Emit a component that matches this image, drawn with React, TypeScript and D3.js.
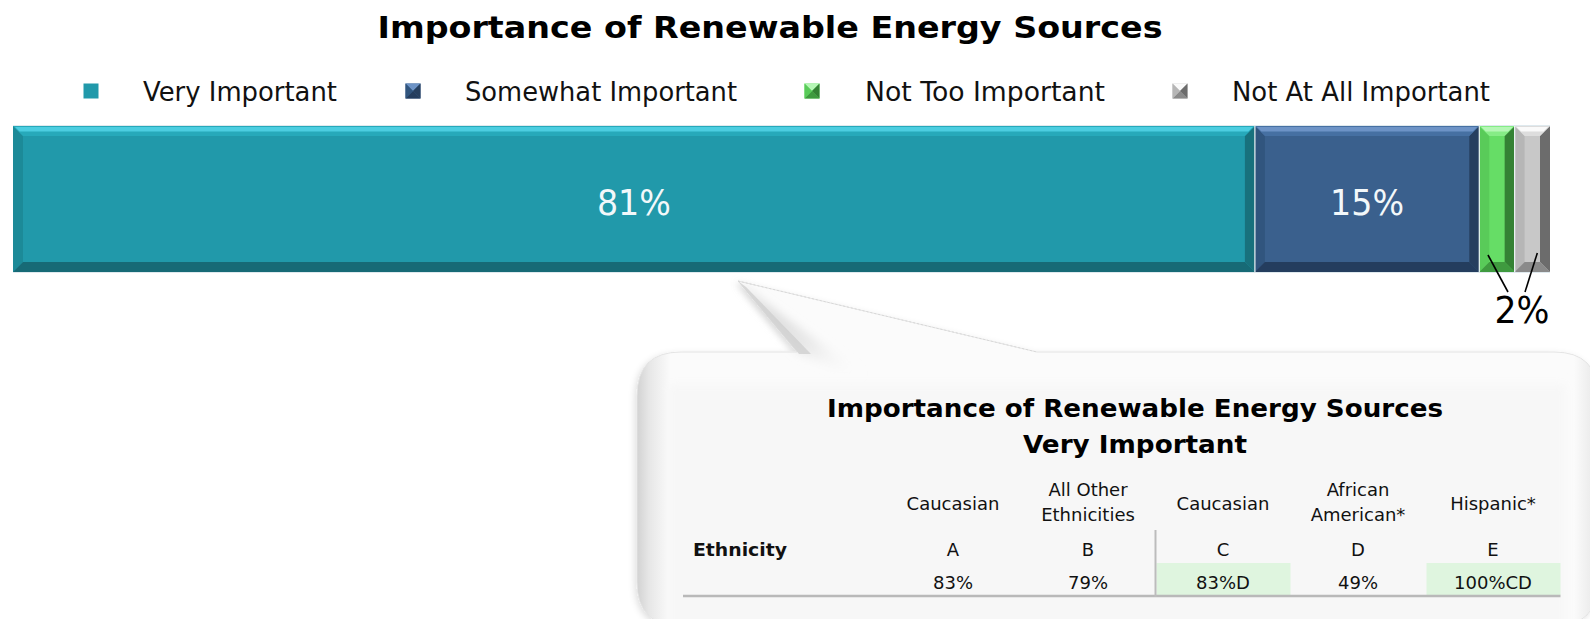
import React from "react";
import * as d3 from "d3";

const chartTitle = "Importance of Renewable Energy Sources";
const categories = ["Very Important", "Somewhat Important", "Not Too Important", "Not At All Important"];
const shares = [80.8, 14.6, 2.3, 2.3];
const barLabels = ["81%", "15%", "2%", ""];

const tableTitle = ["Importance of Renewable Energy Sources", "Very Important"];
const rowLabel = "Ethnicity";
const groupHeaders = [["Caucasian"], ["All Other", "Ethnicities"], ["Caucasian"], ["African", "American*"], ["Hispanic*"]];
const groupLetters = ["A", "B", "C", "D", "E"];
const groupValues = ["83%", "79%", "83%D", "49%", "100%CD"];
const highlighted = [false, false, true, false, true];

type Pal = { base: string; top: string; hi: string; left: string; bottom: string; right: string };
const palettes: Pal[] = [
  { base: "#2199AA", top: "#27a9ba", hi: "#4ccde0", left: "#1c8a98", bottom: "#176a76", right: "#18717d" },
  { base: "#3A608D", top: "#4670a2", hi: "#6d93c6", left: "#31557e", bottom: "#243d5e", right: "#263f5f" },
  { base: "#66DD66", top: "#86ec86", hi: "#b5f7b5", left: "#59cb59", bottom: "#3f9a3f", right: "#348234" },
  { base: "#C8C8C8", top: "#dddddd", hi: "#fafafa", left: "#b6b6b6", bottom: "#8a8a8a", right: "#6c6c6c" },
];

const legendMarkerX = [91, 413, 812, 1180];
const legendTextX = [143, 465, 865, 1232];
const legendTextW = [194, 272, 240, 258];

const FONT = "'DejaVu Sans', Verdana, sans-serif";

function bevel(x0: number, x1: number, y0: number, y1: number, b: number) {
  const p = (pts: number[][]) => pts.map((q) => q.join(",")).join(" ");
  return {
    top: p([[x0, y0], [x1, y0], [x1 - b, y0 + b], [x0 + b, y0 + b]]),
    bottom: p([[x0, y1], [x1, y1], [x1 - b, y1 - b], [x0 + b, y1 - b]]),
    left: p([[x0, y0], [x0 + b, y0 + b], [x0 + b, y1 - b], [x0, y1]]),
    right: p([[x1, y0], [x1 - b, y0 + b], [x1 - b, y1 - b], [x1, y1]]),
    hi: p([[x0 + 2, y0 + 1], [x1 - 2, y0 + 1], [x1 - 2 - b * 0.45, y0 + 1 + b * 0.45], [x0 + 2 + b * 0.45, y0 + 1 + b * 0.45]]),
  };
}

export default function App() {
  const W = 1590;
  const H = 619;
  const x = d3.scaleLinear().domain([0, 100]).range([13, 1550]);
  const ends = Array.from(d3.cumsum(shares));
  const starts = [0, ...ends.slice(0, -1)];
  const barTop = 126;
  const barBot = 272;

  const col = d3.scaleBand<string>().domain(groupLetters).range([885.5, 1560.5]);

  // callout geometry
  const bx0 = 637, by0 = 352, bx1 = 1598, by1 = 626, r = 44;
  const tip = [738, 281];
  const wl = 797, wr = 1037;
  const calloutPath =
    `M${bx0 + r},${by0} L${wl},${by0} L${tip[0]},${tip[1]} L${wr},${by0} L${bx1 - r},${by0} ` +
    `Q${bx1},${by0} ${bx1},${by0 + r} L${bx1},${by1 - r} Q${bx1},${by1} ${bx1 - r},${by1} ` +
    `L${bx0 + r},${by1} Q${bx0},${by1} ${bx0},${by1 - r} L${bx0},${by0 + r} Q${bx0},${by0} ${bx0 + r},${by0} Z`;

  return (
    <svg width={W} height={H} style={{ position: "absolute", left: 0, top: 0, display: "block" }} fontFamily={FONT}>
      <defs>
        <linearGradient id="boxGrad" x1="0" x2="1" y1="0" y2="0">
          <stop offset="0" stopColor="#d2d2d2" />
          <stop offset="0.012" stopColor="#e6e6e6" />
          <stop offset="0.035" stopColor="#fbfbfb" />
          <stop offset="0.975" stopColor="#fbfbfb" />
          <stop offset="1" stopColor="#e6e6e6" />
        </linearGradient>
        <linearGradient id="wedgeShade" x1="0" y1="0" x2="1" y2="0.4">
          <stop offset="0" stopColor="#c4c4c4" stopOpacity="0.95" />
          <stop offset="0.6" stopColor="#e2e2e2" stopOpacity="0.7" />
          <stop offset="1" stopColor="#ffffff" stopOpacity="0" />
        </linearGradient>
        <filter id="soft" x="-5%" y="-5%" width="110%" height="110%">
          <feGaussianBlur stdDeviation="5" />
        </filter>
        <filter id="shadow" x="-5%" y="-10%" width="110%" height="120%">
          <feDropShadow dx="-2" dy="2" stdDeviation="3" floodColor="#000" floodOpacity="0.12" />
        </filter>
      </defs>

      {/* Title */}
      <text x={770} y={38} textAnchor="middle" fontSize={30} fontWeight="bold" textLength={785} lengthAdjust="spacingAndGlyphs">
        {chartTitle}
      </text>

      {/* Legend */}
      {categories.map((c, i) => {
        const cx = legendMarkerX[i];
        const cy = 91;
        const s = 7.5;
        const pal = palettes[i];
        return (
          <g key={c}>
            {i === 0 ? (
              <rect x={cx - s} y={cy - s} width={2 * s} height={2 * s} fill={pal.base} />
            ) : (
              <g>
                <rect x={cx - s} y={cy - s} width={2 * s} height={2 * s} fill={pal.base} />
                <polygon points={`${cx - s},${cy - s} ${cx + s},${cy - s} ${cx},${cy}`} fill={pal.hi} />
                <polygon points={`${cx - s},${cy + s} ${cx + s},${cy + s} ${cx},${cy}`} fill={pal.bottom} />
                <polygon points={`${cx + s},${cy - s} ${cx + s},${cy + s} ${cx},${cy}`} fill={pal.right} />
                <polygon points={`${cx - s},${cy - s} ${cx - s},${cy + s} ${cx},${cy}`} fill={pal.left} />
              </g>
            )}
            <text x={legendTextX[i]} y={101} fontSize={26} fill="#111" textLength={legendTextW[i]} lengthAdjust="spacingAndGlyphs">
              {c}
            </text>
          </g>
        );
      })}

      {/* Stacked bar */}
      <rect x={x(0)} y={barTop - 1} width={x(100) - x(0)} height={barBot - barTop + 2} fill="#dfe9ee" />
      {shares.map((v, i) => {
        const x0 = x(starts[i]);
        const x1 = x(ends[i]);
        const pal = palettes[i];
        const b = Math.min(10, (x1 - x0) / 3.2);
        const bv = bevel(x0, x1, barTop, barBot, b);
        return (
          <g key={categories[i]}>
            <rect x={x0} y={barTop} width={x1 - x0} height={barBot - barTop} fill={pal.base} />
            <polygon points={bv.left} fill={pal.left} />
            <polygon points={bv.right} fill={pal.right} />
            <polygon points={bv.bottom} fill={pal.bottom} />
            <polygon points={bv.top} fill={pal.top} />
            <polygon points={bv.hi} fill={pal.hi} />
            {i > 0 && <line x1={x0} x2={x0} y1={barTop} y2={barBot} stroke="#eef4f6" strokeWidth={1.2} />}
          </g>
        );
      })}
      {[0, 1].map((i) => {
        const cx = (x(starts[i]) + x(ends[i])) / 2;
        return (
          <text key={i} x={cx} y={215} textAnchor="middle" fontSize={36} fill="#f2f8fa" textLength={74} lengthAdjust="spacingAndGlyphs">
            {barLabels[i]}
          </text>
        );
      })}
      {/* leader lines for small segments */}
      <line x1={(x(starts[2]) + x(ends[2])) / 2 - 9} y1={255} x2={1508} y2={292} stroke="#000" strokeWidth={1.6} />
      <line x1={(x(starts[3]) + x(ends[3])) / 2 + 5} y1={253} x2={1525} y2={292} stroke="#000" strokeWidth={1.6} />
      <text x={1522} y={323} textAnchor="middle" fontSize={38} fill="#000" textLength={55} lengthAdjust="spacingAndGlyphs">
        {barLabels[2]}
      </text>

      {/* Callout */}
      <path d={calloutPath} fill="url(#boxGrad)" stroke="#e4e4e4" strokeWidth={1} filter="url(#shadow)" />
      <line x1={tip[0]} y1={tip[1]} x2={wr} y2={by0} stroke="#d8d8d8" strokeWidth={1} strokeDasharray="2,2" />
      <polygon points={`${tip[0]},${tip[1]} ${wl},${by0} ${890},${392} ${760},${300}`} fill="url(#wedgeShade)" filter="url(#soft)" />
      <polygon points={`${tip[0]},${tip[1]} ${wl + 2},${by0 + 2} ${wl + 14},${by0 + 2} ${746},${287}`} fill="#cdcdcd" opacity={0.75} />
      <rect x={668} y={384} width={898} height={260} fill="#f7f7f7" filter="url(#soft)" />

      {/* Table */}
      <text x={1135} y={417} textAnchor="middle" fontSize={24} fontWeight="bold" textLength={616} lengthAdjust="spacingAndGlyphs">
        {tableTitle[0]}
      </text>
      <text x={1135} y={453} textAnchor="middle" fontSize={24} fontWeight="bold" textLength={224} lengthAdjust="spacingAndGlyphs">
        {tableTitle[1]}
      </text>
      {groupLetters.map((g, i) => {
        const x0 = col(g)!;
        const cx = x0 + col.bandwidth() / 2;
        const lines = groupHeaders[i];
        return (
          <g key={g}>
            {highlighted[i] && <rect x={x0 + 1} y={563} width={col.bandwidth() - 1} height={32} fill="#dff5df" />}
            {lines.length === 1 ? (
              <text x={cx} y={510} textAnchor="middle" fontSize={18} fill="#111">{lines[0]}</text>
            ) : (
              <g>
                <text x={cx} y={496} textAnchor="middle" fontSize={18} fill="#111">{lines[0]}</text>
                <text x={cx} y={521} textAnchor="middle" fontSize={18} fill="#111">{lines[1]}</text>
              </g>
            )}
            <text x={cx} y={556} textAnchor="middle" fontSize={18} fill="#111">{g}</text>
            <text x={cx} y={589} textAnchor="middle" fontSize={18} fill="#111">{groupValues[i]}</text>
          </g>
        );
      })}
      <text x={693} y={556} fontSize={18} fontWeight="bold" fill="#111" textLength={94} lengthAdjust="spacingAndGlyphs">
        {rowLabel}
      </text>
      <line x1={683} x2={1560.5} y1={596} y2={596} stroke="#b9b9b9" strokeWidth={2.5} />
      <line x1={col("C")!} x2={col("C")!} y1={530} y2={597} stroke="#bcbcbc" strokeWidth={2} />
    </svg>
  );
}
